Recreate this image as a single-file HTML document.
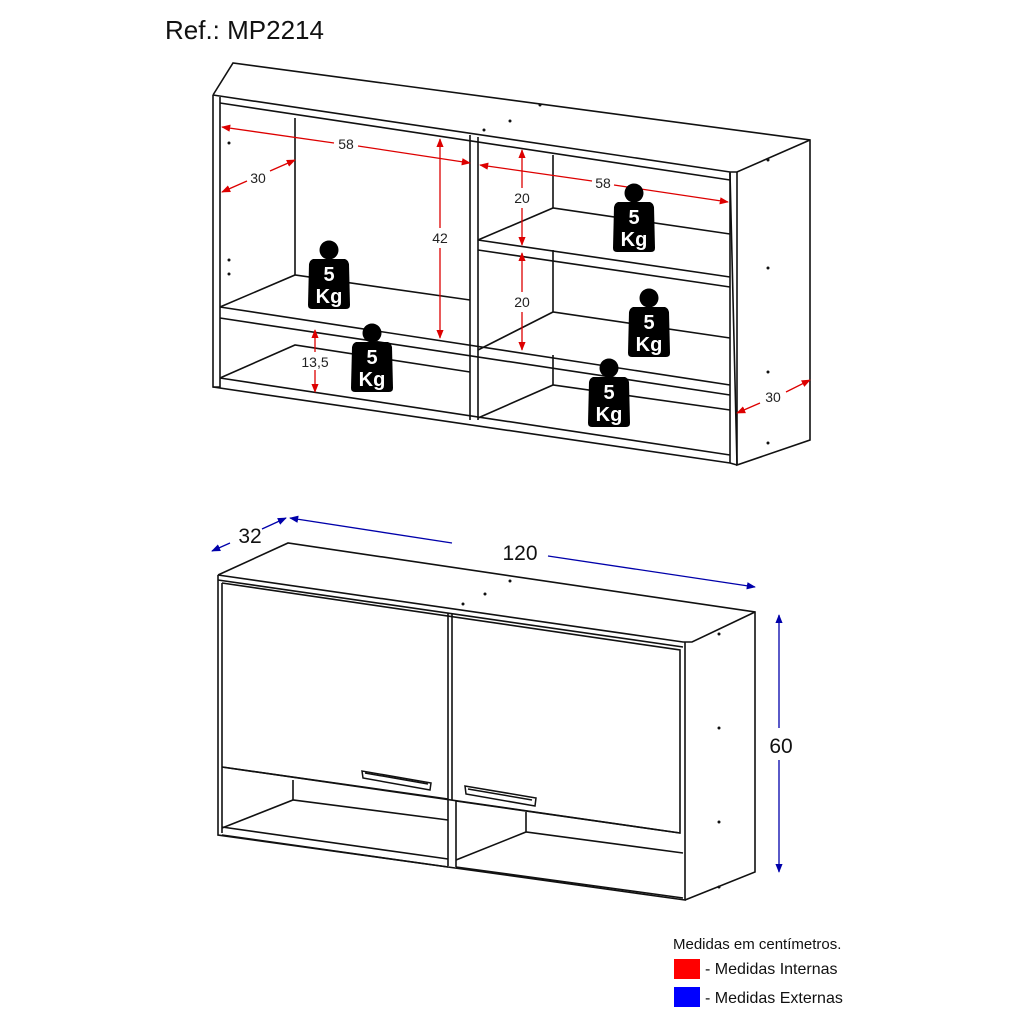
<!DOCTYPE html>
<html><head><meta charset="utf-8"><style>
html,body{margin:0;padding:0;background:#fff;width:1024px;height:1024px;overflow:hidden}
svg{display:block}
text{font-family:"Liberation Sans",sans-serif}
</style></head><body>
<svg width="1024" height="1024" viewBox="0 0 1024 1024" xmlns="http://www.w3.org/2000/svg">
<defs>
<marker id="ar" viewBox="0 0 10 10" refX="9" refY="5" markerWidth="7" markerHeight="7" orient="auto-start-reverse"><path d="M0,1 L10,5 L0,9 Z" fill="#d00"/></marker>
<marker id="ab" viewBox="0 0 10 10" refX="9" refY="5" markerWidth="7" markerHeight="7" orient="auto-start-reverse"><path d="M0,1 L10,5 L0,9 Z" fill="#00a"/></marker>
<g id="wt">
<circle cx="0" cy="0" r="9.5" fill="#000"/>
<path d="M-16,9 L16,9 Q19,10 20,14 L21,55 Q21,59 17,59 L-17,59 Q-21,59 -21,55 L-20,14 Q-19,10 -16,9 Z" fill="#000"/>
<text x="0" y="31" font-size="20" font-weight="bold" fill="#fff" text-anchor="middle">5</text>
<text x="0" y="53" font-size="20" font-weight="bold" fill="#fff" text-anchor="middle">Kg</text>
</g>
</defs>
<text x="165" y="39" font-size="26" fill="#111">Ref.: MP2214</text>

<!-- TOP CABINET -->
<g fill="none" stroke="#111" stroke-width="1.6">
<path d="M213,95 L233,63 L810,140 L810,440 L737,465 L730,173"/>
<path d="M213,95 L730,172 L737,172 L810,140"/>
<path d="M213,95 L213,387 L220,387 L220,97"/>
<path d="M220,103 L730,180"/>
<path d="M213,387 L730,463 L737,465"/>
<path d="M220,378 L730,455"/>
<path d="M730,172 L730,463 M737,172 L737,465"/>
<!-- divider -->
<path d="M470,135 L470,420 M478,137 L478,420"/>
<!-- back verticals -->
<path d="M295,118 L295,275 M553,155 L553,208 M553,250 L553,312 M553,355 L553,385"/>
<!-- left upper shelf -->
<path d="M220,307 L295,275 L470,300"/>
<path d="M220,307 L730,385 M220,318 L730,395"/>
<!-- bottom left -->
<path d="M220,378 L295,345 L470,372"/>
<!-- right shelves -->
<path d="M478,240 L553,208 L730,234"/>
<path d="M478,240 L730,277 M478,250 L730,287"/>
<path d="M478,350 L553,312 L730,338"/>
<path d="M478,418 L553,385 L730,410"/>
</g>
<g fill="#111">
<circle cx="540" cy="105" r="1.5"/><circle cx="510" cy="121" r="1.5"/><circle cx="484" cy="130" r="1.5"/>
<circle cx="229" cy="143" r="1.5"/><circle cx="229" cy="260" r="1.5"/><circle cx="229" cy="274" r="1.5"/>
<circle cx="768" cy="160" r="1.5"/><circle cx="768" cy="268" r="1.5"/><circle cx="768" cy="372" r="1.5"/><circle cx="768" cy="443" r="1.5"/>
</g>
<!-- red dims -->
<g stroke="#d00" stroke-width="1.3" fill="none">
<line x1="222" y1="127" x2="334" y2="143" marker-start="url(#ar)"/><line x1="358" y1="146" x2="470" y2="163" marker-end="url(#ar)"/>
<line x1="222" y1="192" x2="247" y2="181" marker-start="url(#ar)"/><line x1="270" y1="171" x2="295" y2="160" marker-end="url(#ar)"/>
<line x1="440" y1="139" x2="440" y2="228" marker-start="url(#ar)"/><line x1="440" y1="248" x2="440" y2="338" marker-end="url(#ar)"/>
<line x1="522" y1="150" x2="522" y2="188" marker-start="url(#ar)"/><line x1="522" y1="208" x2="522" y2="245" marker-end="url(#ar)"/>
<line x1="522" y1="253" x2="522" y2="292" marker-start="url(#ar)"/><line x1="522" y1="312" x2="522" y2="350" marker-end="url(#ar)"/>
<line x1="480" y1="165" x2="592" y2="181" marker-start="url(#ar)"/><line x1="614" y1="185" x2="728" y2="202" marker-end="url(#ar)"/>
<line x1="315" y1="330" x2="315" y2="352" marker-start="url(#ar)"/><line x1="315" y1="370" x2="315" y2="392" marker-end="url(#ar)"/>
<line x1="737" y1="413" x2="760" y2="403" marker-start="url(#ar)"/><line x1="786" y1="392" x2="810" y2="380" marker-end="url(#ar)"/>
</g>
<g font-size="14" fill="#222" text-anchor="middle">
<text x="346" y="149">58</text><text x="258" y="183">30</text><text x="440" y="243">42</text>
<text x="522" y="203">20</text><text x="522" y="307">20</text><text x="603" y="188">58</text>
<text x="315" y="367">13,5</text><text x="773" y="402">30</text>
</g>
<use href="#wt" x="329" y="250"/><use href="#wt" x="372" y="333"/><use href="#wt" x="634" y="193"/><use href="#wt" x="649" y="298"/><use href="#wt" x="609" y="368"/>

<!-- BOTTOM CABINET -->
<g fill="none" stroke="#111" stroke-width="1.6">
<path d="M218,575 L288,543 L755,612 L755,872 L685,900"/>
<path d="M218,575 L683,642 L692,642 L755,612"/>
<path d="M218,575 L218,835 L685,900 L685,642"/>
<path d="M218,580 L683,647"/>
<path d="M222,583 L222,833"/>
<path d="M222,583 L680,650 L680,833 L456,801"/>
<path d="M222,767 L448,799 L448,613 M452,613 L452,800"/>
<path d="M222,767 L680,833"/>
<path d="M448,800 L448,866 M456,801 L456,867"/>
<path d="M222,828 L293,800 L448,820 M222,835 L448,867"/>
<path d="M456,860 L526,832 L683,853 M526,812 L526,832 M293,780 L293,800"/>
<path d="M222,827 L448,859"/>
<path d="M456,867 L683,898"/>
</g>
<g fill="none" stroke="#111" stroke-width="1.5">
<path d="M362,771 L363,778 L430,790 L431,783 Z"/><path d="M365,773 L428,784"/>
<path d="M465,786 L466,794 L535,806 L536,798 Z"/><path d="M468,789 L532,800"/>
</g>
<g fill="#111">
<circle cx="510" cy="581" r="1.5"/><circle cx="485" cy="594" r="1.5"/><circle cx="463" cy="604" r="1.5"/>
<circle cx="719" cy="634" r="1.5"/><circle cx="719" cy="728" r="1.5"/><circle cx="719" cy="822" r="1.5"/><circle cx="719" cy="887" r="1.5"/>
</g>
<g stroke="#00a" stroke-width="1.3" fill="none">
<line x1="212" y1="551" x2="230" y2="543" marker-start="url(#ab)"/><line x1="262" y1="529" x2="286" y2="518" marker-end="url(#ab)"/>
<line x1="290" y1="518" x2="452" y2="543" marker-start="url(#ab)"/><line x1="548" y1="556" x2="755" y2="587" marker-end="url(#ab)"/>
<line x1="779" y1="615" x2="779" y2="728" marker-start="url(#ab)"/><line x1="779" y1="760" x2="779" y2="872" marker-end="url(#ab)"/>
</g>
<g font-size="21" fill="#111" text-anchor="middle">
<text x="250" y="543">32</text><text x="520" y="560">120</text><text x="781" y="753">60</text>
</g>

<!-- legend -->
<text x="673" y="949" font-size="15" fill="#111">Medidas em centímetros.</text>
<rect x="674" y="959" width="26" height="20" fill="#f00"/>
<text x="705" y="974" font-size="16" fill="#111">- Medidas Internas</text>
<rect x="674" y="987" width="26" height="20" fill="#00f"/>
<text x="705" y="1003" font-size="16" fill="#111">- Medidas Externas</text>
</svg>
</body></html>
